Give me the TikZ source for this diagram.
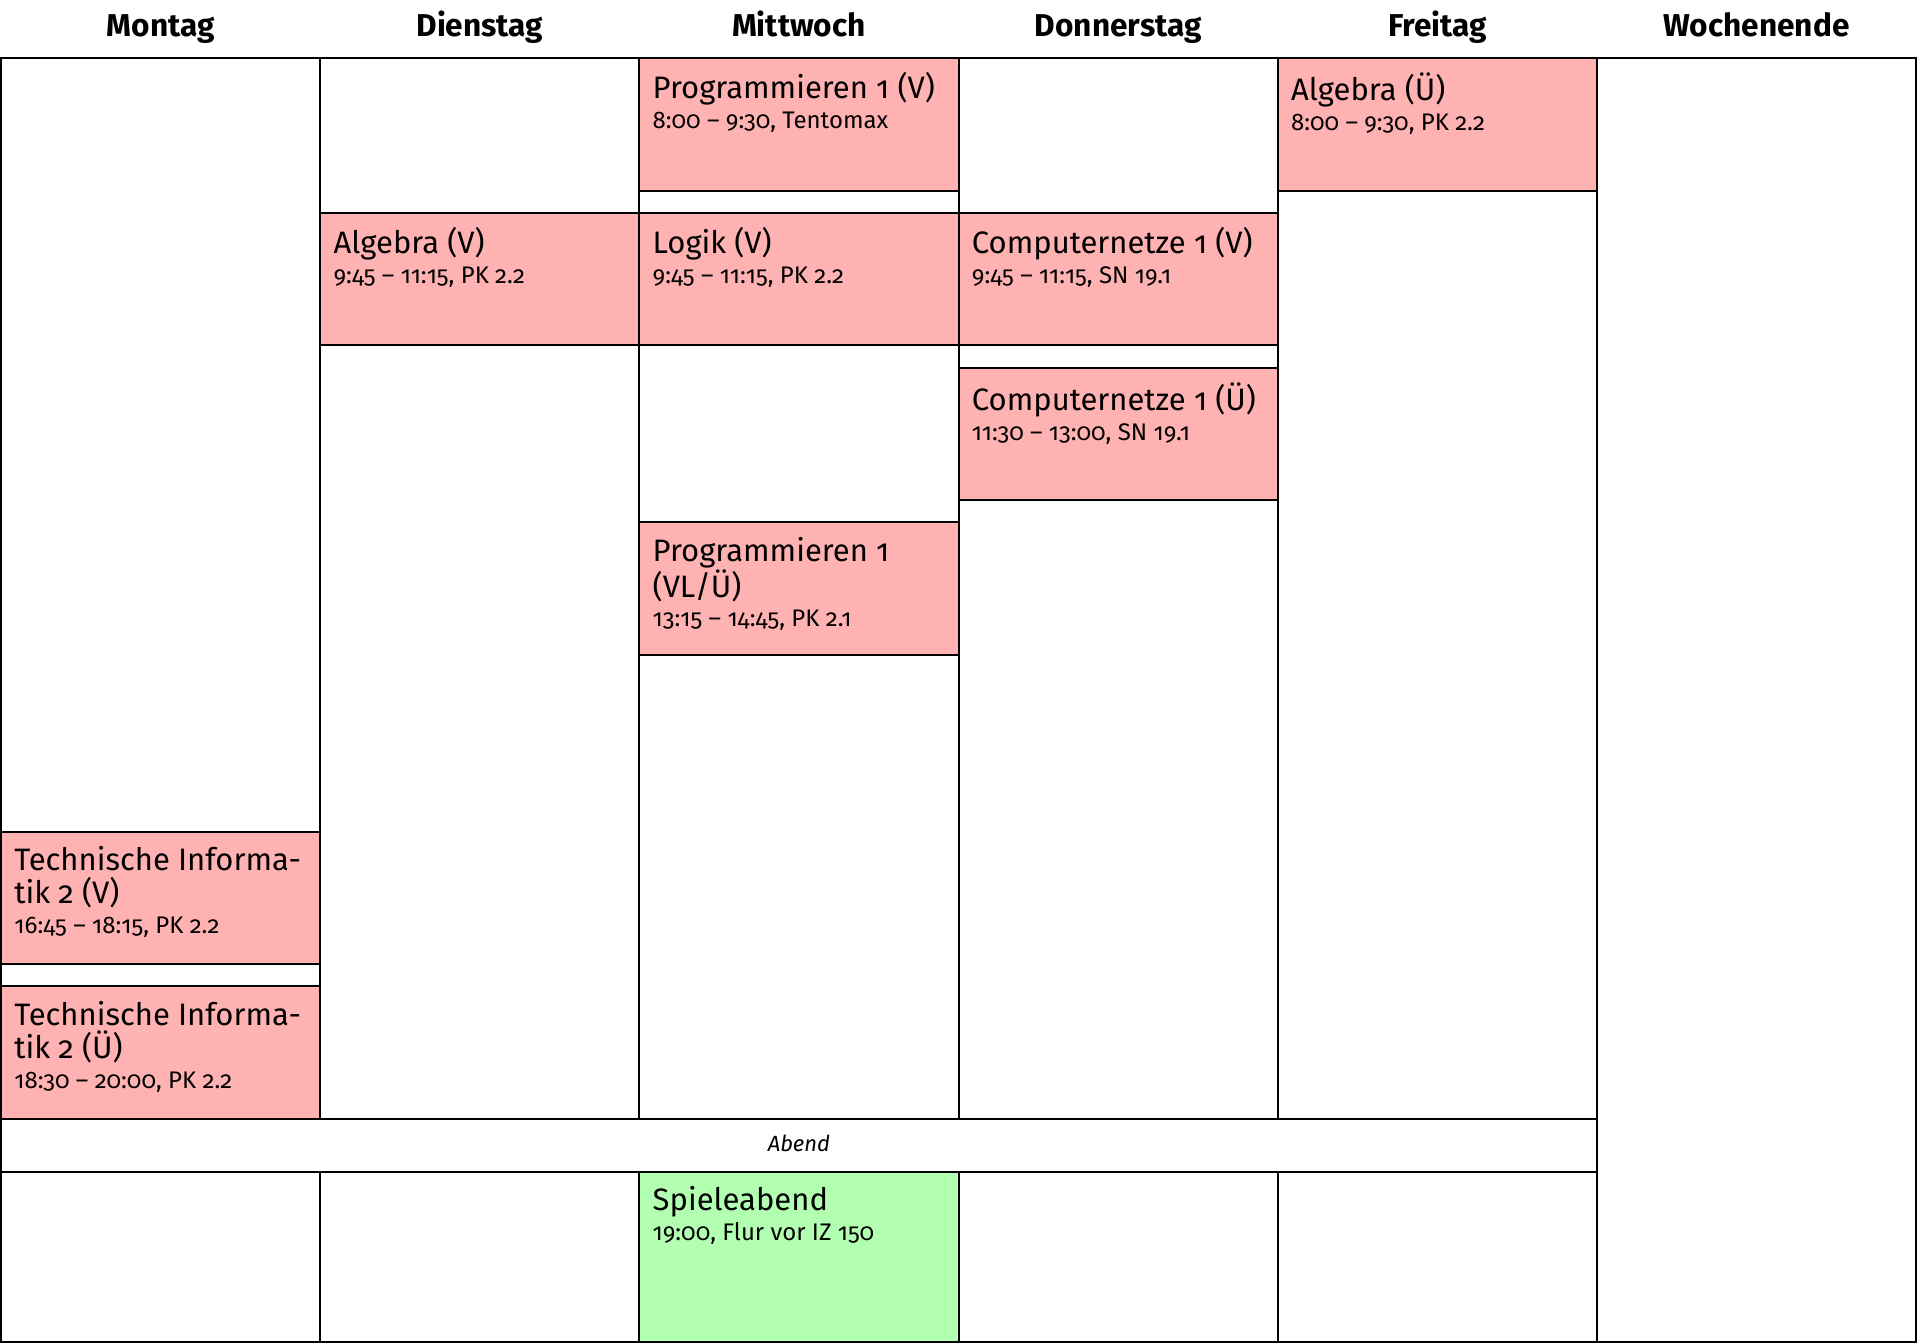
\documentclass[tikz,border=0pt]{standalone}
\usepackage{fontspec}
\setmainfont{Fira Sans}[Numbers=OldStyle]
\usetikzlibrary{positioning}

\definecolor{lecture}{RGB}{255,178,178}
\definecolor{social}{RGB}{178,255,178}
\newcommand{\info}[1]{{\fontsize{12}{13.5}\selectfont #1}}

\tikzset{
  slot/.style={draw=black,line width=1pt},
  course/.style={slot,fill=lecture},
  party/.style={slot,fill=social},
  dayname/.style={anchor=base,font=\fontsize{15.8}{18}\selectfont\bfseries},
  entry/.style={anchor=north west,inner sep=0pt,align=left,
    font=\fontsize{15.5}{16.5}\selectfont},
}

\begin{document}
\begin{tikzpicture}[x=0.5pt,y=-0.5pt]
  \useasboundingbox (0,0) rectangle (1920,1343);
  % Days
  \foreach \d [count=\i from 0] in {Montag,Dienstag,Mittwoch,Donnerstag,Freitag,Wochenende}
    \node[dayname] (day\i) at ({160.6+\i*319.17},37) {\d};
  % Columns
  \foreach \i in {0,...,4} {
    \draw[slot] ({1+\i*319.17},58) rectangle ({1+(\i+1)*319.17},1119);
    \draw[slot] ({1+\i*319.17},1172) rectangle ({1+(\i+1)*319.17},1342);
  }
  \draw[slot] (1596.8,58) rectangle (1916,1342);
  \draw[slot] (1,1119) rectangle (1596.8,1172);
  \node[anchor=base,font=\fontsize{11}{13}\selectfont\itshape] (abend) at (798.9,1151) {Abend};

  % Montag
  \draw[course] (1,831.6) rectangle (320.2,964.3);
  \node[entry] (mo1) at (14,846) {Technische Informa-\\tik 2 (V)\\[-1.5pt]\info{16:45 -- 18:15, PK 2.2}};
  \draw[course] (1,986.4) rectangle (320.2,1119);
  \node[entry] (mo2) at (14,1001) {Technische Informa-\\tik 2 (Ü)\\[-1.5pt]\info{18:30 -- 20:00, PK 2.2}};
  % Dienstag
  \draw[course] (320.2,212.7) rectangle (639.3,345.4);
  \node[entry] (di1) at (333.2,227) {Algebra (V)\\[-1.5pt]\info{9:45 -- 11:15, PK 2.2}};
  % Mittwoch
  \draw[course] (639.3,58) rectangle (958.5,190.6);
  \node[entry] (mi1) at (652.3,72) {Programmieren 1 (V)\\[-1.5pt]\info{8:00 -- 9:30, Tentomax}};
  \draw[course] (639.3,212.7) rectangle (958.5,345.4);
  \node[entry] (mi2) at (652.3,227) {Logik (V)\\[-1.5pt]\info{9:45 -- 11:15, PK 2.2}};
  \draw[course] (639.3,522.2) rectangle (958.5,654.8);
  \node[entry] (mi3) at (652.3,536.5) {Programmieren 1\\[0pt](VL/Ü)\\[-2pt]\info{13:15 -- 14:45, PK 2.1}};
  % Donnerstag
  \draw[course] (958.5,212.7) rectangle (1277.7,345.4);
  \node[entry] (do1) at (971.5,227) {Computernetze 1 (V)\\[-1.5pt]\info{9:45 -- 11:15, SN 19.1}};
  \draw[course] (958.5,367.5) rectangle (1277.7,500.1);
  \node[entry] (do2) at (971.5,382) {Computernetze 1 (Ü)\\[-1.5pt]\info{11:30 -- 13:00, SN 19.1}};
  % Freitag
  \draw[course] (1277.7,58) rectangle (1596.8,190.6);
  \node[entry] (fr1) at (1290.7,72) {Algebra (Ü)\\[-1.5pt]\info{8:00 -- 9:30, PK 2.2}};
  % Abend
  \draw[party] (639.3,1172) rectangle (958.5,1342);
  \node[entry] (mi4) at (652.3,1186) {Spieleabend\\[-1.5pt]\info{19:00, Flur vor IZ 150}};
\end{tikzpicture}
\end{document}
